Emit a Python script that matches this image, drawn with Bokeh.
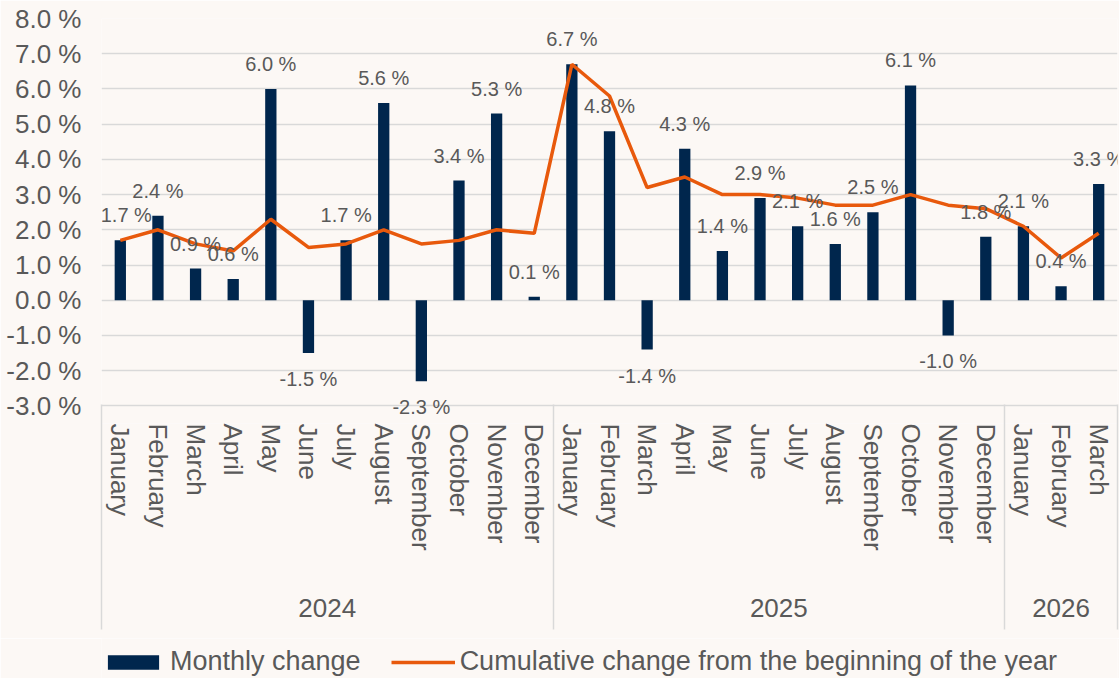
from bokeh.plotting import figure
from bokeh.layouts import column
from bokeh.models import (ColumnDataSource, Range1d, LabelSet, LinearAxis, FixedTicker,
                          PrintfTickFormatter, Legend, LegendItem)
from bokeh.core.properties import value
from bokeh.embed import file_html
from bokeh.resources import INLINE

# ---------------- data ----------------
years = ["2024"] * 12 + ["2025"] * 12 + ["2026"] * 3
month_names = ["January", "February", "March", "April", "May", "June", "July",
               "August", "September", "October", "November", "December"]
months = month_names + month_names + ["January", "February", "March"]
monthly_change = [1.7, 2.4, 0.9, 0.6, 6.0, -1.5, 1.7, 5.6, -2.3, 3.4, 5.3, 0.1,
                  6.7, 4.8, -1.4, 4.3, 1.4, 2.9, 2.1, 1.6, 2.5, 6.1, -1.0, 1.8,
                  2.1, 0.4, 3.3]
cumulative_change = [1.7, 2.0, 1.6, 1.4, 2.3, 1.5, 1.6, 2.0, 1.6, 1.7, 2.0, 1.9,
                     6.7, 5.8, 3.2, 3.5, 3.0, 3.0, 2.9, 2.7, 2.7, 3.0, 2.7, 2.6,
                     2.1, 1.2, 1.9]
y_ticks = [-3, -2, -1, 0, 1, 2, 3, 4, 5, 6, 7, 8]
series_names = ["Monthly change", "Cumulative change from the beginning of the year"]

# ---------------- styles ----------------
BG = "#FCF8F5"
NAVY = "#00264D"
ORANGE = "#E8590C"
GRID = "#D9D9D9"
TXT = "#595959"
FONT = "Liberation Sans"

# positions derived from the category order (one slot per month)
n = len(months)
xpos = [i + 0.5 for i in range(n)]
year_order = []
for y in years:
    if y not in year_order:
        year_order.append(y)
year_start = {y: years.index(y) for y in year_order}
year_count = {y: years.count(y) for y in year_order}
year_centers = [year_start[y] + year_count[y] / 2 for y in year_order]
boundaries = [year_start[y] for y in year_order] + [n]

src = ColumnDataSource(dict(
    x=xpos,
    monthly=monthly_change,
    cum=cumulative_change,
    label=[f"{v:.1f} %" for v in monthly_change],
    off=[25 if v >= 0 else -26 for v in monthly_change],
    xoff=[6 if i == 0 else 0 for i in range(n)],   # keep first label inside plot area
))

p = figure(width=1119, height=638,
           x_range=Range1d(0, n), y_range=Range1d(-3.5, 8),
           x_axis_location=None,
           output_backend="svg", toolbar_location=None,
           min_border_left=101, min_border_right=2, min_border_top=18, min_border_bottom=215)
p.background_fill_color = BG
p.border_fill_color = BG
p.outline_line_color = None

bars = p.vbar(x="x", top="monthly", width=0.3, source=src, fill_color=NAVY, line_color=None)
line = p.line(x="x", y="cum", source=src, line_color=ORANGE, line_width=3.5)

labels = LabelSet(x="x", y="monthly", text="label", y_offset="off", x_offset="xoff",
                  source=src, text_align="center", text_baseline="middle",
                  text_font=value(FONT), text_font_size="20px", text_color=TXT)
p.add_layout(labels)

# y axis
yax = p.yaxis[0]
yax.ticker = FixedTicker(ticks=y_ticks)
yax.formatter = PrintfTickFormatter(format="%.1f %%")
yax.axis_line_color = None
yax.major_tick_line_color = None
yax.minor_tick_line_color = None
yax.major_label_standoff = 14
yax.major_label_text_font = FONT
yax.major_label_text_font_size = "26px"
yax.major_label_text_color = TXT

p.xgrid.grid_line_color = None
p.ygrid.grid_line_color = GRID
p.ygrid.grid_line_width = 1.5

# month axis
month_ax = LinearAxis(ticker=FixedTicker(ticks=xpos),
                      major_label_overrides=dict(zip(xpos, months)),
                      axis_line_color=None,
                      major_tick_line_color=None, minor_tick_line_color=None,
                      major_label_orientation="vertical", major_label_standoff=-6,
                      major_label_text_font=FONT, major_label_text_font_size="26px",
                      major_label_text_color=TXT)
p.add_layout(month_ax, "below")

# year axis
year_ax = LinearAxis(ticker=FixedTicker(ticks=year_centers),
                     major_label_overrides=dict(zip(year_centers, year_order)),
                     axis_line_color=None, major_tick_line_color=None,
                     minor_tick_line_color=None, major_label_standoff=39,
                     major_label_text_font=FONT, major_label_text_font_size="26px",
                     major_label_text_color=TXT)
p.add_layout(year_ax, "below")

# year separators (ticks drawn up to the -3.0 line and a little below the years)
sep_ax = LinearAxis(ticker=FixedTicker(ticks=boundaries),
                    major_label_overrides={b: "" for b in boundaries},
                    major_tick_in=215, major_tick_out=10,
                    major_tick_line_color=GRID, major_tick_line_width=1.5,
                    minor_tick_line_color=None, minor_tick_out=0, axis_line_color=None,
                    major_label_text_font_size="1px", major_label_text_color=None,
                    major_label_standoff=0)
p.add_layout(sep_ax, "below")

# legend strip below the chart (same series, drawn outside this strip's visible range)
p2 = figure(width=1119, height=40, x_range=Range1d(0, n), y_range=Range1d(100, 101),
            x_axis_location=None, y_axis_location=None,
            output_backend="svg", toolbar_location=None,
            min_border_left=0, min_border_right=0, min_border_top=0, min_border_bottom=0)
p2.background_fill_color = BG
p2.border_fill_color = BG
p2.outline_line_color = None
p2.grid.visible = False
key_bar = p2.vbar(x="x", top="monthly", width=0.3, source=src,
                  fill_color=NAVY, line_color=None)
key_line = p2.line(x="x", y="cum", source=src, line_color=ORANGE, line_width=3.5)
legend = Legend(items=[LegendItem(label=series_names[0], renderers=[key_bar]),
                       LegendItem(label=series_names[1], renderers=[key_line])],
                orientation="horizontal", location=(0, 1),
                background_fill_alpha=0, border_line_color=None,
                label_text_font=FONT, label_text_font_size="27px", label_text_color=TXT,
                glyph_width=64, glyph_height=18, label_standoff=5, spacing=30,
                padding=0, margin=0)
p2.add_layout(legend)

layout = column(p, p2, spacing=0)
open("out.html", "w").write(file_html(layout, INLINE))
